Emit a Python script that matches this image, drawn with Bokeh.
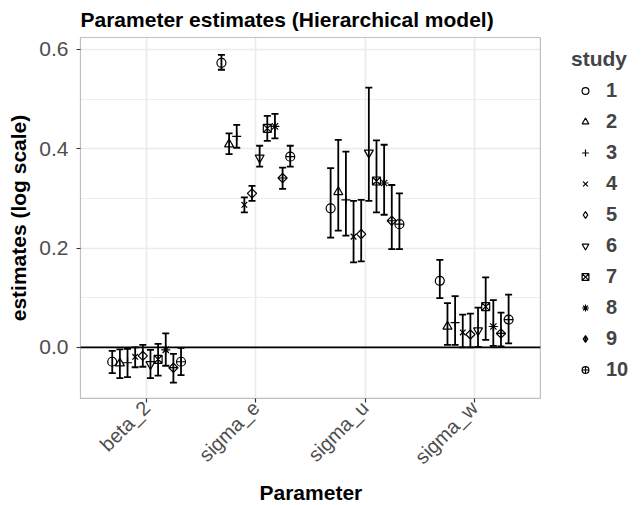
import math
from bokeh.plotting import figure
from bokeh.models import (ColumnDataSource, Whisker, TeeHead, Span, FixedTicker,
                          Legend, LegendItem, Range1d, BoxAnnotation, Title)
from bokeh.transform import dodge
from bokeh.embed import file_html
from bokeh.resources import INLINE

# ---------------- data ----------------
parameters = ["beta_2", "sigma_e", "sigma_u", "sigma_w"]
studies = ["1", "2", "3", "4", "5", "6", "7", "8", "9", "10"]
# ggplot shapes 1..10: circle, triangle, plus, x, diamond, down-triangle,
# square with x, asterisk, diamond with plus, circle with plus
markers = ["circle", "triangle", "cross", "x", "square", "inverted_triangle",
           "square_x", "asterisk", "square_x", "circle_cross"]
marker_angles = [0, 0, 0, 0, math.pi / 4, 0, 0, 0, math.pi / 4, 0]
marker_sizes = [9, 9, 9, 8, 6.5, 9, 8, 9, 6.5, 9]
legend_markers = ["circle", "triangle", "cross", "x", "diamond", "inverted_triangle",
                  "square_x", "asterisk", "diamond_cross", "circle_cross"]

est_beta_2 = [-0.029, -0.032, -0.031, -0.019, -0.017, -0.034, -0.024, -0.005, -0.041, -0.029]
lo_beta_2 = [-0.052, -0.062, -0.060, -0.040, -0.039, -0.062, -0.057, -0.037, -0.071, -0.056]
hi_beta_2 = [-0.007, -0.004, -0.003, 0.000, 0.005, -0.005, 0.007, 0.028, -0.013, -0.001]

est_sigma_e = [0.573, 0.409, 0.425, 0.287, 0.310, 0.382, 0.441, 0.445, 0.341, 0.384]
lo_sigma_e = [0.559, 0.389, 0.402, 0.272, 0.295, 0.364, 0.416, 0.421, 0.319, 0.364]
hi_sigma_e = [0.589, 0.431, 0.448, 0.302, 0.325, 0.406, 0.466, 0.470, 0.362, 0.406]

est_sigma_u = [0.280, 0.313, 0.297, 0.223, 0.228, 0.392, 0.335, 0.331, 0.255, 0.248]
lo_sigma_u = [0.221, 0.235, 0.225, 0.171, 0.173, 0.295, 0.272, 0.267, 0.198, 0.198]
hi_sigma_u = [0.361, 0.418, 0.394, 0.295, 0.297, 0.523, 0.417, 0.408, 0.327, 0.310]

est_sigma_w = [0.134, 0.042, 0.050, 0.030, 0.026, 0.034, 0.082, 0.042, 0.028, 0.056]
lo_sigma_w = [0.099, 0.005, 0.005, 0.000, 0.000, 0.001, 0.015, 0.003, 0.002, 0.008]
hi_sigma_w = [0.176, 0.089, 0.103, 0.066, 0.068, 0.080, 0.141, 0.095, 0.070, 0.106]

y_ticks = [0.0, 0.2, 0.4, 0.6]
y_tick_labels = ["0.0", "0.2", "0.4", "0.6"]
y_minor_ticks = [-0.1, 0.1, 0.3, 0.5]

estimates = [est_beta_2, est_sigma_e, est_sigma_u, est_sigma_w]
lowers = [lo_beta_2, lo_sigma_e, lo_sigma_u, lo_sigma_w]
uppers = [hi_beta_2, hi_sigma_e, hi_sigma_u, hi_sigma_w]
x_ticks = list(range(1, len(parameters) + 1))

# ---------------- layout constants ----------------
FONT = "Liberation Sans"
DODGE = 0.7
# visible panel limits (data units)
PX_LO, PX_HI = 0.394, 4.606
PY_LO, PY_HI = -0.103, 0.624
# the drawing frame is a bit larger; the part right of the panel holds the legend
FX_LO, FX_HI = 0.376, 5.532
FY_LO, FY_HI = -0.107, 0.628

p = figure(width=641, height=505, output_backend="svg", toolbar_location=None,
           x_range=Range1d(FX_LO, FX_HI), y_range=Range1d(FY_LO, FY_HI),
           min_border_left=78, min_border_right=0, min_border_top=35,
           min_border_bottom=105,
           background_fill_color="white", border_fill_color="white")
p.outline_line_color = None
# a range that puts the legend-key renderers out of view
p.extra_y_ranges = {"key_only": Range1d(100, 101)}

p.title.text = "Parameter estimates (Hierarchical model)"
p.title.text_font = FONT
p.title.text_font_size = "21px"
p.title.text_font_style = "bold"
p.title.text_color = "black"
p.title.align = "left"
p.title.offset = 2
p.title.standoff = 10

# grids
xticker = FixedTicker(ticks=x_ticks)
p.xaxis.ticker = xticker
p.xgrid.ticker = xticker
p.xgrid.grid_line_color = "#EBEBEB"
p.xgrid.grid_line_width = 1.6
p.xaxis.major_label_overrides = {t: name for t, name in zip(x_ticks, parameters)}

yticker = FixedTicker(ticks=y_ticks, minor_ticks=y_minor_ticks)
p.yaxis.ticker = yticker
p.ygrid.ticker = yticker
p.ygrid.grid_line_color = "#EBEBEB"
p.ygrid.grid_line_width = 1.6
p.ygrid.minor_grid_line_color = "#EBEBEB"
p.ygrid.minor_grid_line_width = 0.9
p.yaxis.major_label_overrides = {t: l for t, l in zip(y_ticks, y_tick_labels)}

for ax in (p.xaxis[0], p.yaxis[0]):
    ax.axis_line_color = None
    ax.major_tick_line_color = "#333333"
    ax.major_tick_line_width = 1.2
    ax.major_tick_out = 2
    ax.major_tick_in = 2
    ax.minor_tick_line_color = None
    ax.major_label_text_font = FONT
    ax.major_label_text_color = "#4D4D4D"
    ax.axis_label_text_font = FONT
    ax.axis_label_text_font_size = "21px"
    ax.axis_label_text_font_style = "bold"
    ax.axis_label_text_color = "black"

p.yaxis.major_label_text_font_size = "21px"
p.yaxis.major_label_standoff = 6
p.xaxis.major_label_text_font_size = "20px"
p.xaxis.major_label_standoff = 2
p.xaxis.major_label_orientation = math.pi / 4
p.yaxis.axis_label = "estimates (log scale)"
p.yaxis.axis_label_standoff = 6

# x axis title, centred under the visible panel
xt = Title(text="Parameter", text_font=FONT, text_font_size="21px",
           text_font_style="bold", text_color="black", align="left",
           offset=181, standoff=0)
p.add_layout(xt, "below")

# zero line
p.add_layout(Span(location=0, dimension="width", line_color="black",
                  line_width=1.8, level="underlay"))

# ---------------- marks ----------------
legend_renderers = []
for i, s in enumerate(studies):
    src = ColumnDataSource(dict(
        pos=x_ticks,
        est=[e[i] for e in estimates],
        lo=[l[i] for l in lowers],
        hi=[u[i] for u in uppers],
    ))
    off = (i - (len(studies) - 1) / 2) * DODGE / len(studies)
    xs = dodge("pos", off)
    w = Whisker(source=src, base=xs, lower="lo", upper="hi", dimension="height",
                line_color="black", line_width=1.8,
                upper_head=TeeHead(size=7, line_color="black", line_width=1.8),
                lower_head=TeeHead(size=7, line_color="black", line_width=1.8))
    p.add_layout(w)
    p.scatter(x=xs, y="est", source=src, marker=markers[i],
              angle=marker_angles[i], size=marker_sizes[i],
              line_color="black", line_width=1.2, fill_color=None)
    # same data, drawn on the out-of-view range: only its legend key shows
    lr = p.scatter(x=xs, y="est", source=src, marker=legend_markers[i],
                   y_range_name="key_only", size=8, line_color="black",
                   line_width=1.2, fill_color=None)
    legend_renderers.append(lr)

# white cover outside the visible panel, then the panel border
for kw in (dict(left=PX_HI), dict(right=PX_LO), dict(bottom=PY_HI), dict(top=PY_LO)):
    p.add_layout(BoxAnnotation(fill_color="white", fill_alpha=1.0, line_alpha=0,
                               level="glyph", **kw))
p.add_layout(BoxAnnotation(left=PX_LO, right=PX_HI, bottom=PY_LO, top=PY_HI,
                           fill_alpha=0, line_color="#333333", line_width=1.2))

items = [LegendItem(label=s, renderers=[r]) for s, r in zip(studies, legend_renderers)]
legend = Legend(items=items, title="study", location=(493, 19), margin=0, padding=4,
                spacing=8, glyph_width=28, glyph_height=17, label_standoff=7,
                label_height=16,
                title_text_font=FONT, title_text_font_size="21px",
                title_text_font_style="bold", title_standoff=8,
                label_text_font=FONT, label_text_font_size="20px",
                label_text_font_style="bold",
                border_line_color=None, background_fill_alpha=0)
p.add_layout(legend, "center")

open("out.html", "w").write(file_html(p, INLINE))
